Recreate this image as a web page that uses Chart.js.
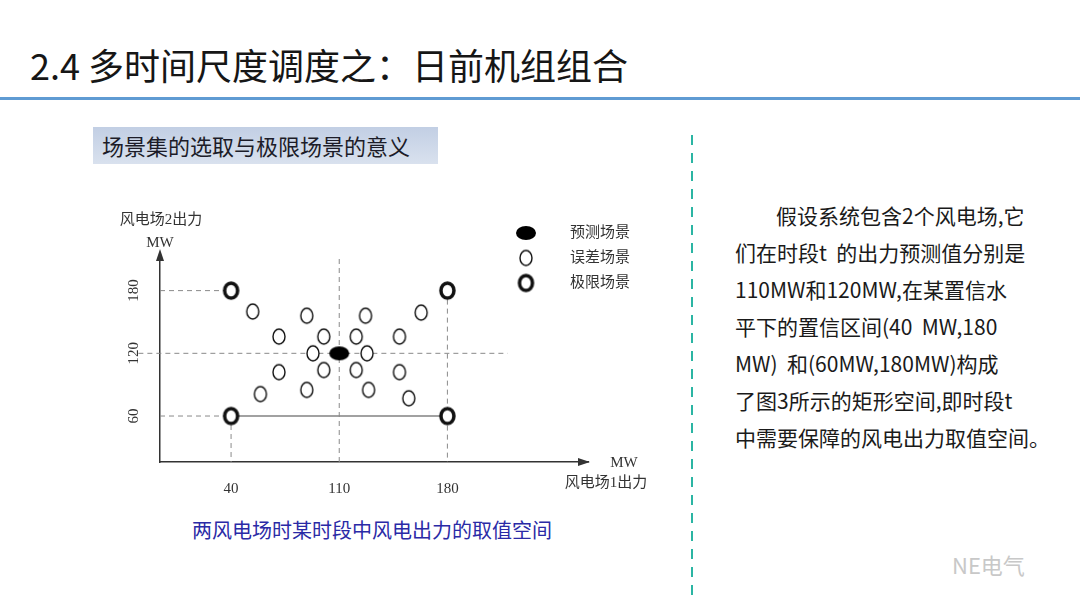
<!DOCTYPE html>
<html lang="zh">
<head>
<meta charset="utf-8">
<title>2.4 多时间尺度调度之：日前机组组合</title>
<script src="https://cdn.jsdelivr.net/npm/chart.js"></script>
<style>
    html, body { margin: 0; padding: 0; }
    body {
        width: 1080px;
        height: 608px;
        overflow: hidden;
        position: relative;
        background: #fff;
        color: #1a1a1a;
        font-family: "Noto Sans CJK SC", "Noto Sans", sans-serif;
    }
    #title {
        position: absolute;
        left: 30px;
        top: 45px;
        font-size: 36px;
        line-height: 38px;
        white-space: nowrap;
        color: #161616;
    }
    #titleRule {
        position: absolute;
        left: 0;
        top: 97px;
        width: 1080px;
        height: 3px;
        background: #5f9bd3;
    }
    #subTitle {
        position: absolute;
        left: 93px;
        top: 127px;
        width: 345px;
        height: 37px;
        box-sizing: border-box;
        padding-left: 9px;
        background: linear-gradient(#c2cfe4, #d9e1ee);
        font-size: 22px;
        line-height: 37px;
        white-space: nowrap;
        color: #1c1c28;
    }
    #chartBox { position: absolute; left: 100px; top: 195px; }
    #caption {
        position: absolute;
        left: 192px;
        top: 516px;
        font-size: 20px;
        line-height: 28px;
        white-space: nowrap;
        color: #2a2aa6;
    }
    #divider {
        position: absolute;
        left: 691px;
        top: 135px;
        width: 2px;
        height: 468px;
        background: repeating-linear-gradient(to bottom, #2bb5a3 0 10px, transparent 10px 18px);
    }
    .para {
        position: absolute;
        left: 735px;
        font-size: 21px;
        line-height: 28px;
        white-space: pre;
        color: #1a1a1a;
    }
    .para.first { padding-left: 41px; }
    #mark {
        position: absolute;
        left: 952px;
        top: 548px;
        font-size: 22px;
        color: #c8c8c8;
    }
</style>
</head>
<body>
<div id="title">2.4 多时间尺度调度之：日前机组组合</div>
<div id="titleRule"></div>
<div id="subTitle">场景集的选取与极限场景的意义</div>
<div id="chartBox"><canvas id="scenarioChart" width="580" height="310"></canvas></div>
<div id="caption">两风电场时某时段中风电出力的取值空间</div>
<div id="divider"></div>
<div id="paragraph"></div>
<div id="mark">NE电气</div>

<script>
// axis ranges and tick labels (MW)
const xRange = [-6, 271];
const yRange = [16, 216];
const xTicks = [40, 110, 180];
const yTicks = [60, 120, 180];

// scenarios: x = wind farm 1 output, y = wind farm 2 output (MW)
const forecastX = [110];
const forecastY = [120];
const errorX = [54, 89, 127, 163, 71, 100, 121, 149, 93, 128, 71, 100, 121, 149, 59, 89, 129, 155];
const errorY = [160, 156, 156, 159, 136, 136, 136, 136, 120, 120, 102, 104, 104, 102, 81, 85, 85, 77];
const limitX = [40, 180, 40, 180];
const limitY = [180, 180, 60, 60];

const legendLabels = ['预测场景', '误差场景', '极限场景'];
const yTitle = ['风电场2出力', 'MW'];
const xTitle = ['MW', '风电场1出力'];

const paragraphLines = [
    '假设系统包含2个风电场,它',
    '们在时段t  的出力预测值分别是',
    '110MW和120MW,在某置信水',
    '平下的置信区间(40  MW,180',
    'MW)  和(60MW,180MW)构成',
    '了图3所示的矩形空间,即时段t',
    '中需要保障的风电出力取值空间。'
];

// 1. right hand text, one div per line
const para = document.getElementById('paragraph');
paragraphLines.forEach((line, i) => {
    const div = document.createElement('div');
    div.className = i === 0 ? 'para first' : 'para';
    div.style.top = (201 + i * 37) + 'px';
    div.textContent = line;
    para.appendChild(div);
});

// 2. marker images (ellipses)
function makeMarker(rx, ry, lineWidth, fill) {
    const pad = Math.ceil(lineWidth) + 1;
    const c = document.createElement('canvas');
    c.width = rx * 2 + pad * 2;
    c.height = ry * 2 + pad * 2;
    const g = c.getContext('2d');
    g.beginPath();
    g.ellipse(c.width / 2, c.height / 2, rx, ry, 0, 0, Math.PI * 2);
    g.fillStyle = fill;
    g.fill();
    if (lineWidth) {
        g.lineWidth = lineWidth;
        g.strokeStyle = '#111';
        g.stroke();
    }
    return c;
}
const forecastMarker = makeMarker(10, 7, 0, '#000');
const errorMarker = makeMarker(6, 7.5, 1.4, '#fff');
const limitMarker = makeMarker(6.5, 7.5, 3.5, '#fff');
const legendMarkers = [forecastMarker, errorMarker, limitMarker];

const toPoints = (xs, ys) => xs.map((x, i) => ({ x: x, y: ys[i] }));

function guide(xs, ys, dashed) {
    return {
        data: toPoints(xs, ys),
        showLine: true,
        pointRadius: 0,
        borderColor: dashed ? '#8a8a8a' : '#444',
        borderWidth: dashed ? 1 : 1.2,
        borderDash: dashed ? [5, 4] : [],
        clip: false,
        order: 5
    };
}

// 3. arrows, axis titles and legend
const decorations = {
    id: 'decorations',
    afterDraw(chart) {
        const { ctx, chartArea: a } = chart;
        ctx.save();
        ctx.fillStyle = '#333';
        ctx.beginPath();
        ctx.moveTo(a.left, a.top - 4);
        ctx.lineTo(a.left - 4, a.top + 8);
        ctx.lineTo(a.left + 4, a.top + 8);
        ctx.closePath();
        ctx.fill();
        ctx.beginPath();
        ctx.moveTo(a.right + 2, a.bottom);
        ctx.lineTo(a.right - 10, a.bottom - 4);
        ctx.lineTo(a.right - 10, a.bottom + 4);
        ctx.closePath();
        ctx.fill();

        ctx.font = '15px "Liberation Serif", "Noto Sans CJK SC"';
        ctx.textAlign = 'center';
        ctx.textBaseline = 'middle';
        ctx.fillText(yTitle[0], a.left + 1, a.top - 33);
        ctx.fillText(yTitle[1], a.left, a.top - 10);
        ctx.fillText(xTitle[0], a.right + 36, a.bottom + 1);
        ctx.fillText(xTitle[1], a.right + 18, a.bottom + 21);

        ctx.textAlign = 'left';
        legendLabels.forEach((label, i) => {
            const m = legendMarkers[i];
            const y = a.top - 20 + i * 25;
            ctx.drawImage(m, a.right - 62 - m.width / 2, y - m.height / 2);
            ctx.fillText(label, a.right - 18, y);
        });
        ctx.restore();
    }
};

const tickFont = { family: '"Liberation Serif", "Noto Sans CJK SC"', size: 15 };

new Chart(document.getElementById('scenarioChart'), {
    type: 'scatter',
    data: {
        datasets: [
            { label: legendLabels[0], data: toPoints(forecastX, forecastY), pointStyle: forecastMarker, pointRadius: 10, order: 0 },
            { label: legendLabels[1], data: toPoints(errorX, errorY), pointStyle: errorMarker, pointRadius: 8, order: 1 },
            { label: legendLabels[2], data: toPoints(limitX, limitY), pointStyle: limitMarker, pointRadius: 8, order: 1 },
            guide([forecastX[0], forecastX[0]], [yRange[0], 213], true),
            guide([-20, 219], [forecastY[0], forecastY[0]], true),
            guide([xRange[0], limitX[0]], [limitY[0], limitY[0]], true),
            guide([xRange[0], limitX[2]], [limitY[2], limitY[2]], true),
            guide([limitX[2], limitX[2]], [limitY[2], yRange[0]], true),
            guide([limitX[1], limitX[1]], [limitY[1], yRange[0]], true),
            guide([limitX[2], limitX[3]], [limitY[2], limitY[3]], false)
        ]
    },
    options: {
        responsive: false,
        animation: false,
        events: [],
        layout: { padding: { left: 0, top: 58, right: 92, bottom: 0 } },
        plugins: {
            legend: { display: false },
            tooltip: { enabled: false }
        },
        scales: {
            x: {
                type: 'linear',
                min: xRange[0],
                max: xRange[1],
                afterBuildTicks: s => { s.ticks = xTicks.map(v => ({ value: v })); },
                afterFit: s => { s.height = 43; },
                grid: { display: false },
                border: { display: true, color: '#333', width: 1.5 },
                ticks: { autoSkip: false, maxRotation: 0, padding: 10, color: '#333', font: tickFont }
            },
            y: {
                type: 'linear',
                min: yRange[0],
                max: yRange[1],
                afterBuildTicks: s => { s.ticks = yTicks.map(v => ({ value: v })); },
                afterFit: s => { s.width = 60; },
                grid: { display: false },
                border: { display: true, color: '#333', width: 1.5 },
                ticks: { autoSkip: false, minRotation: 90, maxRotation: 90, crossAlign: 'center', padding: 7, color: '#333', font: tickFont }
            }
        }
    },
    plugins: [decorations]
});
</script>
</body>
</html>
